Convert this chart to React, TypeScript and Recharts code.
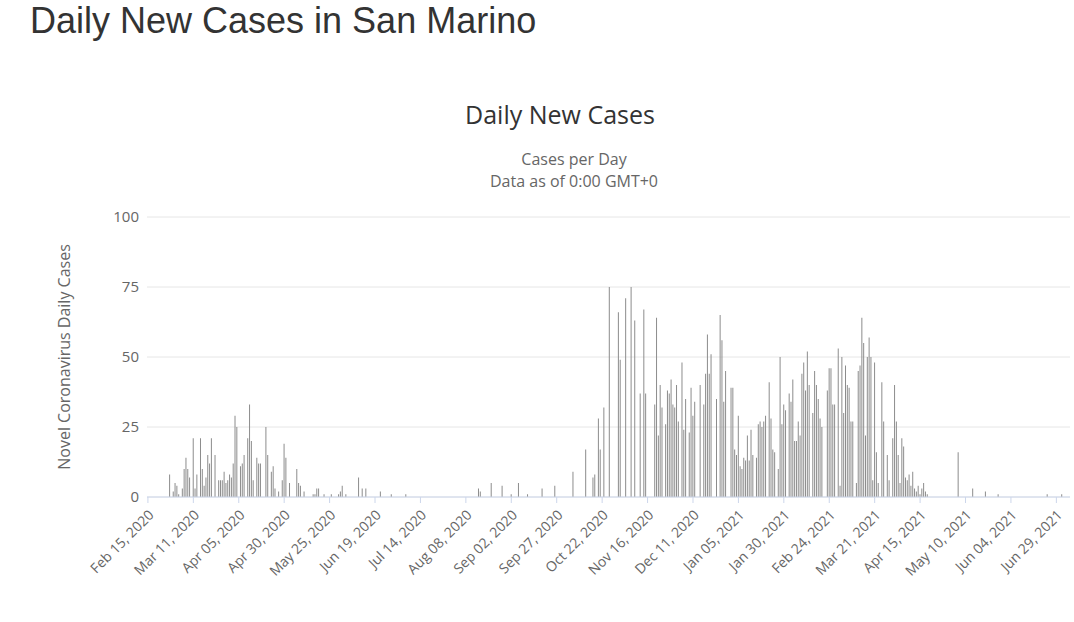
import React from 'react';
import { BarChart, Bar, XAxis, YAxis, CartesianGrid } from 'recharts';

const feb2020 = [0,0,0,0,0,0,0,0,0,0,0,0,8,0,2];
const mar2020 = [5,4,1,0,3,10,14,10,7,0,21,3,8,0,21,10,4,7,15,12,21,0,15,0,6,6,6,9,5,6,8];
const apr2020 = [7,12,29,25,0,11,12,15,0,21,33,20,6,0,14,12,12,0,0,25,15,0,9,11,3,0,2,0,6,19];
const may2020 = [14,0,5,0,0,0,10,5,4,0,2,0,0,0,0,1,1,3,3,0,0,1,0,0,0,1,0,0,0,1,2];
const jun2020 = [4,0,1,0,0,0,0,0,0,7,0,3,0,3,0,0,0,0,0,0,0,2,0,0,0,0,0,1,0,0];
const jul2020 = [0,0,0,0,0,1,0,0,0,0,0,0,0,0,0,0,0,0,0,0,0,0,0,0,0,0,0,0,0,0,0];
const aug2020 = [0,0,0,0,0,0,0,0,0,0,0,0,0,0,3,2,0,0,0,0,0,5,0,0,0,0,0,4,0,0,0];
const sep2020 = [0,1,0,0,0,5,0,0,0,0,1,0,0,0,0,0,0,0,3,0,0,0,0,0,0,4,0,0,0,0];
const oct2020 = [0,0,0,0,0,9,0,0,0,0,0,0,17,0,0,0,7,8,0,28,17,0,32,0,0,75,0,0,0,0,66];
const nov2020 = [49,0,0,71,0,0,75,0,63,0,0,37,0,67,37,0,0,0,0,33,64,22,40,32,0,26,38,37,42,33];
const dec2020 = [32,40,27,0,48,24,35,0,23,39,29,34,0,0,40,0,33,44,58,44,51,0,0,35,0,65,56,34,45,0,0];
const jan2021 = [39,39,17,15,29,11,10,14,13,22,13,24,15,0,14,26,27,25,27,29,0,41,28,17,16,0,10,50,26,33,31];
const feb2021 = [0,37,34,42,20,20,27,22,44,48,38,52,40,0,30,45,40,35,28,25,0,0,38,46,46,33,33,0];
const mar2021 = [53,4,50,30,47,40,39,27,27,0,5,45,47,64,55,22,50,57,50,6,48,16,5,0,41,27,0,15,6,0,21];
const apr2021 = [40,27,15,5,21,18,7,6,8,4,9,3,2,4,1,3,5,2,1,0,0,0,0,0,0,0,0,0,0,0];
const may2021 = [0,0,0,0,0,16,0,0,0,0,0,0,0,3,0,0,0,0,0,0,2,0,0,0,0,0,0,1,0,0,0];
const jun2021 = [0,0,0,0,0,0,0,0,0,0,0,0,0,0,0,0,0,0,0,0,0,0,0,1,0,0,0,0,0,0];
const jul2021 = [0,1,0,0,0,0];

const values = [
  ...feb2020, ...mar2020, ...apr2020, ...may2020, ...jun2020, ...jul2020, ...aug2020,
  ...sep2020, ...oct2020, ...nov2020, ...dec2020, ...jan2021, ...feb2021, ...mar2021,
  ...apr2021, ...may2021, ...jun2021, ...jul2021,
];

const MONTHS = ['Jan','Feb','Mar','Apr','May','Jun','Jul','Aug','Sep','Oct','Nov','Dec'];
const start = Date.UTC(2020, 1, 15);
const fmt = (i: number) => {
  const d = new Date(start + i * 86400000);
  return `${MONTHS[d.getUTCMonth()]} ${String(d.getUTCDate()).padStart(2, '0')}, ${d.getUTCFullYear()}`;
};
const data = values.map((v, i) => ({ date: fmt(i), cases: v }));
const tickLabels = data.filter((_, i) => i % 25 === 0).map((d) => d.date);
const yTicks = [0, 25, 50, 75, 100];

const FONT = '"Liberation Sans", Arial, sans-serif';
const CFONT = '"Open Sans", "DejaVu Sans", sans-serif';

const RotTick = (props: any) => {
  const { x, y, payload } = props;
  return (
    <g transform={`translate(${x + 4},${y + 8})`}>
      <text textAnchor="end" transform="rotate(-45)" fill="#666" fontSize={14} fontFamily={CFONT} dy={4}>
        {payload.value}
      </text>
    </g>
  );
};

export default function App() {
  return (
    <div style={{ position: 'absolute', left: 0, top: 0, width: 1074, height: 622, background: '#fff' }}>
      <div style={{ position: 'absolute', left: 30, top: 0, fontSize: 36, color: '#333', fontFamily: FONT }}>Daily New Cases in San Marino</div>
      <div style={{ position: 'absolute', left: 0, width: 1120, top: 97, textAlign: 'center', fontSize: 25, color: '#333', fontFamily: CFONT }}>Daily New Cases</div>
      <div style={{ position: 'absolute', left: 0, width: 1148, top: 148, textAlign: 'center', fontSize: 16, color: '#666', lineHeight: '22px', fontFamily: CFONT }}>
        Cases per Day<br />Data as of 0:00 GMT+0
      </div>
      <div style={{ position: 'absolute', left: 0, top: 0 }}>
        <BarChart width={1074} height={622} data={data} margin={{ top: 217, right: 4, left: 0, bottom: 0 }} barCategoryGap={0.3}>
          <CartesianGrid vertical={false} stroke="#e6e6e6" />
          <XAxis dataKey="date" ticks={tickLabels} interval={0} tick={<RotTick />} height={125}
            stroke="#ccd6eb" tickLine={{ stroke: '#ccd6eb' }} />
          <YAxis domain={[0, 100]} ticks={yTicks} width={147} axisLine={false} tickLine={false}
            tick={{ fill: '#666', fontSize: 15, fontFamily: CFONT }}
            label={{ value: 'Novel Coronavirus Daily Cases', angle: -90, position: 'insideLeft', offset: 64, fill: '#666', fontSize: 16, fontFamily: CFONT, style: { textAnchor: 'middle' } }} />
          <Bar dataKey="cases" fill="#8c8c8c" isAnimationActive={false} />
        </BarChart>
      </div>
    </div>
  );
}
